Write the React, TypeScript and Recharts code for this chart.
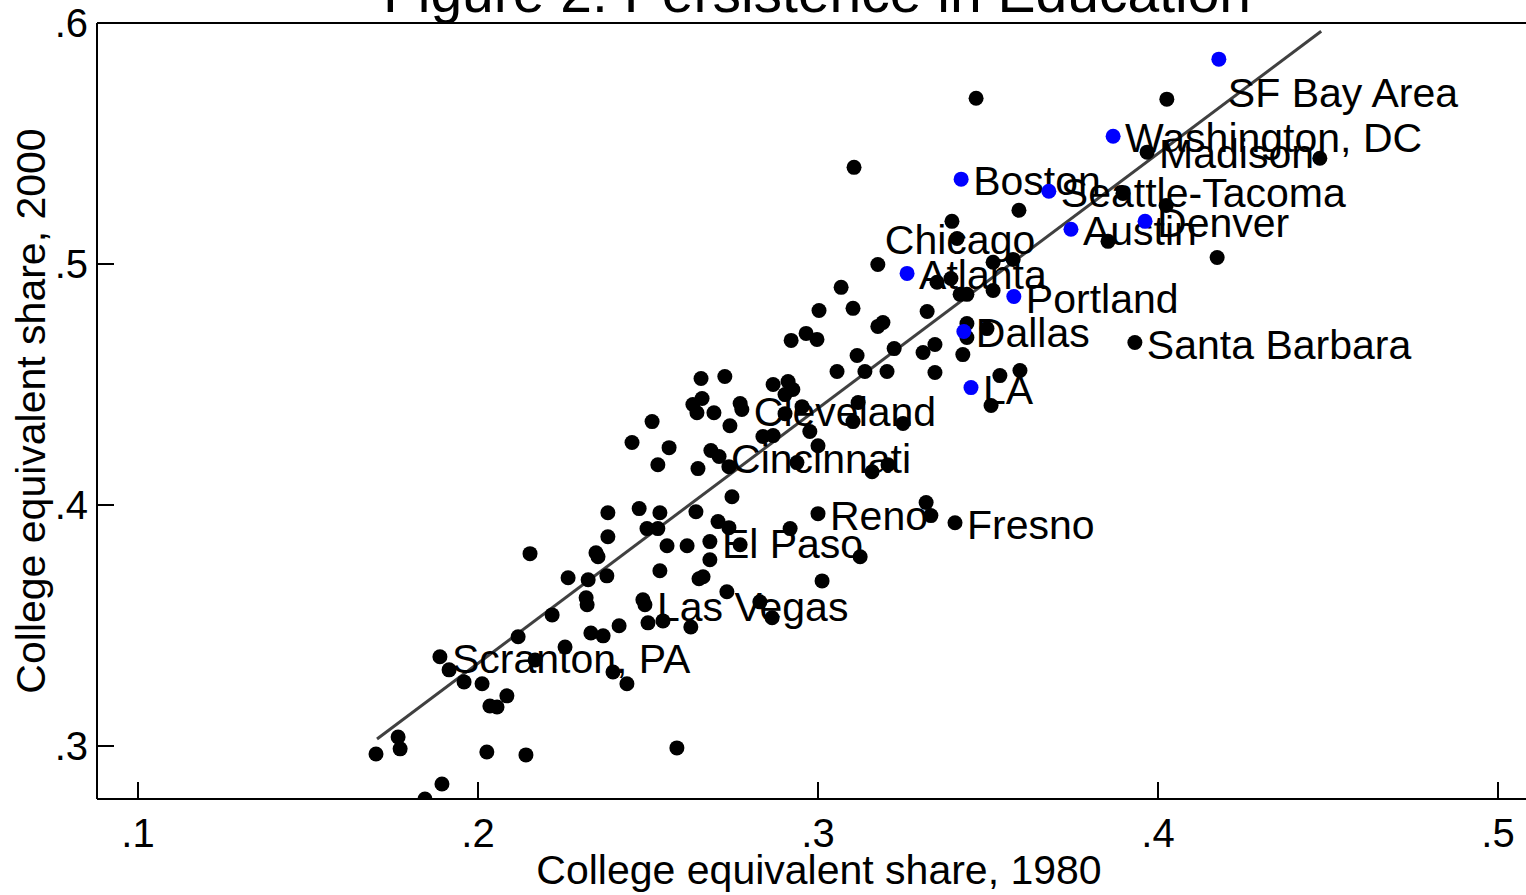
import React from 'react'
import { ScatterChart, Scatter, XAxis, YAxis, ReferenceLine } from 'recharts'

const FONT = '"Liberation Sans", Arial, Helvetica, sans-serif'

const xTicks = [0.1, 0.2, 0.3, 0.4, 0.5]
const yTicks = [0.3, 0.4, 0.5, 0.6]

const fitLine = [
	{ x: 0.1703, y: 0.3029 },
	{ x: 0.448, y: 0.5966 },
]

// unlabelled metro areas: [share 1980, share 2000]
const otherMetros: [number, number][] = [
	[0.17, 0.2967], [0.1765, 0.3037], [0.1771, 0.2988], [0.1894, 0.2842], [0.1844, 0.278], [0.2026, 0.2975], [0.2141, 0.2963], [0.2585, 0.2992],
	[0.1915, 0.3316], [0.1959, 0.3266], [0.2012, 0.3258], [0.2035, 0.3166], [0.2056, 0.3162], [0.2085, 0.3208], [0.2118, 0.3453], [0.2168, 0.3357],
	[0.2256, 0.3411], [0.2397, 0.3307], [0.2438, 0.3258],
	[0.2218, 0.3544], [0.2318, 0.3615], [0.2321, 0.3586], [0.2332, 0.3469], [0.2368, 0.3457], [0.2415, 0.3499],
	[0.2265, 0.3698], [0.2324, 0.369], [0.2379, 0.3706], [0.2153, 0.3798], [0.2347, 0.3802], [0.2353, 0.3785], [0.2382, 0.3868], [0.2382, 0.3968],
	[0.2474, 0.3985], [0.2535, 0.3968], [0.2641, 0.3972], [0.2497, 0.3902], [0.2529, 0.3902], [0.2556, 0.3831], [0.2615, 0.3831],
	[0.2682, 0.3773], [0.2535, 0.3727], [0.265, 0.3694], [0.2662, 0.3702], [0.2732, 0.364], [0.2485, 0.3607], [0.25, 0.3511], [0.2544, 0.3519], [0.2626, 0.3494],
	[0.2706, 0.3931], [0.2738, 0.3906], [0.2771, 0.3835], [0.2829, 0.3598], [0.2865, 0.3532], [0.2747, 0.4034], [0.2918, 0.3902], [0.3012, 0.3685],
	[0.3124, 0.3785], [0.3318, 0.401], [0.3332, 0.3956],
	[0.2656, 0.4525], [0.2726, 0.4533], [0.2868, 0.45], [0.2912, 0.4512], [0.2926, 0.4479], [0.2632, 0.4417], [0.2659, 0.4442], [0.2644, 0.4383],
	[0.2694, 0.4383], [0.2771, 0.4421], [0.2741, 0.4329],
	[0.2512, 0.4346], [0.2453, 0.4259], [0.2562, 0.4238], [0.2529, 0.4167], [0.2647, 0.4151], [0.2685, 0.4226], [0.2738, 0.4159],
	[0.2838, 0.4284], [0.2868, 0.4288], [0.2903, 0.4379], [0.2903, 0.4458], [0.2953, 0.4408], [0.2976, 0.4305], [0.2938, 0.4176], [0.3, 0.4246],
	[0.3118, 0.4425], [0.3103, 0.4346], [0.3159, 0.4138], [0.3206, 0.4167], [0.325, 0.4338],
	[0.2921, 0.4683], [0.2965, 0.4712], [0.2997, 0.4687], [0.3003, 0.4807], [0.3103, 0.4816], [0.3068, 0.4903], [0.3176, 0.4741], [0.3191, 0.4757],
	[0.3115, 0.462], [0.3224, 0.4649], [0.3309, 0.4633], [0.3344, 0.4666], [0.3426, 0.4624],
	[0.3056, 0.4554], [0.3138, 0.4554], [0.3203, 0.4554], [0.3344, 0.455], [0.3535, 0.4537], [0.3594, 0.4558], [0.3509, 0.4413],
	[0.3176, 0.4998], [0.335, 0.4924], [0.3391, 0.494], [0.3321, 0.4803], [0.3418, 0.4874], [0.3438, 0.4874], [0.3515, 0.489], [0.3438, 0.4753],
	[0.3438, 0.4695], [0.3497, 0.4732], [0.3515, 0.5007], [0.3574, 0.5019], [0.3394, 0.5177],
	[0.3106, 0.5401], [0.3465, 0.5688], [0.3591, 0.5223], [0.3853, 0.5094], [0.3897, 0.5293], [0.4024, 0.5243], [0.4174, 0.5027], [0.4026, 0.5684],
	[0.4476, 0.5439],
]

// labelled black markers
const namedCities = ['Madison', 'Chicago', 'Santa Barbara', 'Cleveland', 'Cincinnati', 'Reno', 'Fresno', 'El Paso', 'Las Vegas', 'Scranton, PA']
const namedX = [0.3968, 0.3409, 0.3932, 0.2776, 0.2709, 0.3, 0.3403, 0.2682, 0.2491, 0.1888]
const namedY = [0.5464, 0.5106, 0.4674, 0.4396, 0.4201, 0.3964, 0.3926, 0.3848, 0.3586, 0.337]
const namedPos = ['r', 'c', 'r', 'r', 'r', 'r', 'r', 'r', 'r', 'r']

// highlighted (blue) markers
const blueCities = ['SF Bay Area', 'Washington, DC', 'Boston', 'Seattle-Tacoma', 'Austin', 'Denver', 'Atlanta', 'Portland', 'Dallas', 'LA']
const blueX = [0.4179, 0.3868, 0.3421, 0.3679, 0.3744, 0.3962, 0.3262, 0.3576, 0.3429, 0.345]
const blueY = [0.585, 0.553, 0.5352, 0.5302, 0.5144, 0.5177, 0.4961, 0.4865, 0.472, 0.4487]
const bluePos = ['br', 'r', 'r', 'r', 'r', 'r', 'r', 'r', 'r', 'r']

const others = otherMetros.map(([x, y]) => ({ x, y }))
const named = namedCities.map((name, i) => ({ name, x: namedX[i], y: namedY[i], pos: namedPos[i] }))
const blue = blueCities.map((name, i) => ({ name, x: blueX[i], y: blueY[i], pos: bluePos[i] }))

const fmt = (v: number) => String(v).replace(/^0\./, '.')

const XTick = ({ x, y, payload }: any) => (
	<g>
		<line x1={x} x2={x} y1={y} y2={y - 17} stroke='#000' strokeWidth={2} />
		<text x={x} y={y + 48} textAnchor='middle' fontSize={40} fontFamily={FONT} fill='#000'>
			{fmt(payload.value)}
		</text>
	</g>
)

const YTick = ({ x, y, payload }: any) => (
	<g>
		<line x1={x} x2={x + 17} y1={y} y2={y} stroke='#000' strokeWidth={2} />
		<text x={x - 9} y={y + 14} textAnchor='end' fontSize={40} fontFamily={FONT} fill='#000'>
			{fmt(payload.value)}
		</text>
	</g>
)

const Dot = (color: string) => (p: any) => <circle cx={p.cx} cy={p.cy} r={7.5} fill={color} />

const LabelledDot = (color: string) => (p: any) => {
	const pos = p.payload.pos
	let tx = p.cx + 12
	let ty = p.cy + 16
	let anchor = 'start'
	if (pos === 'br') {
		tx = p.cx + 9
		ty = p.cy + 48
	} else if (pos === 'c') {
		tx = p.cx + 3
		anchor = 'middle'
	}
	return (
		<g>
			<circle cx={p.cx} cy={p.cy} r={7.5} fill={color} />
			<text x={tx} y={ty} textAnchor={anchor} fontSize={41} fontFamily={FONT} fill='#000'>
				{p.payload.name}
			</text>
		</g>
	)
}

const App = () => {
	return (
		<div style={{ position: 'relative', width: 1526, height: 895, overflow: 'hidden', background: '#fff' }}>
			<style>{'body{margin:0}'}</style>
			<ScatterChart width={1541} height={895} margin={{ top: 23, right: 0, bottom: 0, left: 0 }}>
				<XAxis
					type='number'
					dataKey='x'
					domain={[0.08794, 0.51265]}
					ticks={xTicks}
					allowDataOverflow
					height={96}
					tickSize={0}
					tickMargin={0}
					tick={<XTick />}
					axisLine={{ stroke: '#000', strokeWidth: 2 }}
				/>
				<YAxis
					type='number'
					dataKey='y'
					domain={[0.278, 0.6]}
					ticks={yTicks}
					allowDataOverflow
					width={97}
					tickSize={0}
					tickMargin={0}
					tick={<YTick />}
					axisLine={{ stroke: '#000', strokeWidth: 2 }}
				/>
				<ReferenceLine y={0.6} stroke='#000' strokeWidth={2} />
				<Scatter data={others} shape={Dot('#000')} isAnimationActive={false} />
				<Scatter data={named} shape={LabelledDot('#000')} isAnimationActive={false} />
				<ReferenceLine
					segment={[fitLine[0], fitLine[1]]}
					stroke='#404040'
					strokeWidth={3}
				/>
				<Scatter data={blue} shape={LabelledDot('#0000ff')} isAnimationActive={false} />
			</ScatterChart>
			<svg width={1526} height={895} style={{ position: 'absolute', left: 0, top: 0, pointerEvents: 'none' }}>
				<text x={817} y={12} textAnchor='middle' fontSize={57} fontFamily={FONT} fill='#000'>
					Figure 2: Persistence in Education
				</text>
				<text x={819} y={884} textAnchor='middle' fontSize={41} fontFamily={FONT} fill='#000'>
					College equivalent share, 1980
				</text>
				<text
					x={45}
					y={411}
					textAnchor='middle'
					fontSize={41}
					fontFamily={FONT}
					fill='#000'
					transform='rotate(-90 45 411)'
				>
					College equivalent share, 2000
				</text>
			</svg>
		</div>
	)
}

export default App
